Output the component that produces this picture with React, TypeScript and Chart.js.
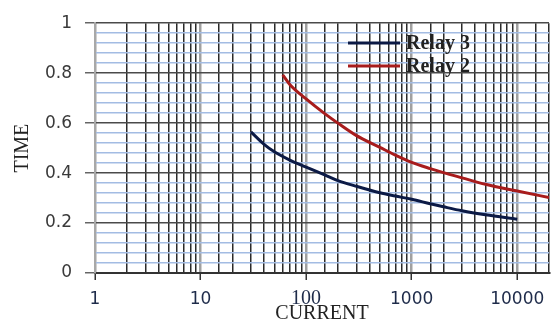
import React, { useEffect, useRef } from 'react';
import { Chart, registerables } from 'chart.js';

Chart.register(...registerables);

// ---- data ----
const seriesNames = ['Relay 3', 'Relay 2'];
const seriesColors = ['#0c1a45', '#a81c1c'];

const relay3Current = [30, 40, 50, 70, 100, 150, 200, 300, 500, 700, 1000, 1500, 2000, 3000, 5000, 10000];
const relay3Time = [0.565, 0.515, 0.485, 0.452, 0.424, 0.393, 0.37, 0.347, 0.321, 0.308, 0.295, 0.277, 0.265, 0.249, 0.233, 0.215];

const relay2Current = [60, 70, 100, 150, 200, 300, 500, 700, 1000, 1500, 2000, 3000, 5000, 10000, 20000];
const relay2Time = [0.793, 0.755, 0.697, 0.638, 0.6, 0.55, 0.503, 0.472, 0.443, 0.418, 0.402, 0.381, 0.355, 0.328, 0.302];

const xTickLabels = [1, 10, 100, 1000, 10000];
const yMajorTicks = [0, 0.2, 0.4, 0.6, 0.8, 1];

const xMin = 1;
const xMax = 20000;
const yMin = 0;
const yMax = 1;
const yMinorStep = 0.04;

const isDecade = (v: number) => {
  const l = Math.log10(v);
  return Math.abs(l - Math.round(l)) < 1e-9;
};
const isYMajor = (v: number) => yMajorTicks.some((m) => Math.abs(m - v) < 1e-6);

const insideLegend = {
  id: 'insideLegend',
  afterDatasetsDraw(chart: any) {
    const ctx = chart.ctx;
    const rows = [43, 66];
    chart.data.datasets.forEach((ds: any, i: number) => {
      const y = rows[i];
      ctx.save();
      ctx.strokeStyle = ds.borderColor;
      ctx.lineWidth = 3;
      ctx.beginPath();
      ctx.moveTo(348, y);
      ctx.lineTo(400, y);
      ctx.stroke();
      ctx.fillStyle = '#222222';
      ctx.font = 'bold 20px "Liberation Serif"';
      ctx.textBaseline = 'middle';
      ctx.textAlign = 'left';
      ctx.fillText(ds.label, 406, y + 1);
      ctx.restore();
    });
  },
};

export default function App() {
  const ref = useRef<HTMLCanvasElement | null>(null);

  useEffect(() => {
    document.body.style.margin = '0';
    const canvas = ref.current;
    if (!canvas) return;

    const chart = new Chart(canvas, {
      type: 'line',
      data: {
        datasets: [
          {
            label: seriesNames[0],
            data: relay3Current.map((x, i) => ({ x, y: relay3Time[i] })),
            borderColor: seriesColors[0],
            backgroundColor: seriesColors[0],
            borderWidth: 3,
            pointRadius: 0,
            cubicInterpolationMode: 'monotone',
            fill: false,
          },
          {
            label: seriesNames[1],
            data: relay2Current.map((x, i) => ({ x, y: relay2Time[i] })),
            borderColor: seriesColors[1],
            backgroundColor: seriesColors[1],
            borderWidth: 3,
            pointRadius: 0,
            cubicInterpolationMode: 'monotone',
            fill: false,
          },
        ],
      },
      options: {
        responsive: false,
        maintainAspectRatio: false,
        animation: false,
        devicePixelRatio: 1,
        layout: { padding: { top: 20, right: 11, left: 0, bottom: 0 } },
        plugins: {
          legend: { display: false },
          tooltip: { enabled: false },
        },
        scales: {
          x: {
            type: 'logarithmic',
            min: xMin,
            max: xMax,
            border: { display: true, color: '#333333', width: 2 },
            grid: {
              color: (c: any) => (c.tick && isDecade(c.tick.value) ? '#a0a0a0' : '#2a2a2a'),
              lineWidth: (c: any) => (c.tick && isDecade(c.tick.value) ? 2.5 : 1.5),
              tickColor: (c: any) => (c.tick && isDecade(c.tick.value) ? '#333333' : 'rgba(0,0,0,0)'),
              tickLength: 7,
              tickWidth: 1.5,
            },
            ticks: {
              autoSkip: false,
              maxRotation: 0,
              minRotation: 0,
              padding: 9,
              color: '#1e2b4a',
              font: (c: any) =>
                c.tick && c.tick.value === 100
                  ? { family: '"Liberation Serif"', size: 20, lineHeight: 1 }
                  : { family: '"DejaVu Sans"', size: 17 },
              callback: (v: any) => {
                const n = Number(v);
                return xTickLabels.some((t) => Math.abs(t - n) < 1e-9) ? String(n) : '';
              },
            },
            title: {
              display: true,
              text: 'CURRENT',
              color: '#222222',
              font: { family: '"Liberation Serif"', size: 20, lineHeight: 1 },
              padding: { top: 0, bottom: -4 },
            },
            afterFit: (s: any) => {
              s.height = 47;
            },
          },
          y: {
            type: 'linear',
            min: yMin,
            max: yMax,
            border: { display: true, color: '#a8a8a8', width: 2 },
            grid: {
              color: (c: any) => (c.tick && isYMajor(c.tick.value) ? '#4a4a4a' : '#a3bce3'),
              lineWidth: 1.5,
              tickColor: (c: any) => (c.tick && isYMajor(c.tick.value) ? '#666666' : 'rgba(0,0,0,0)'),
              tickLength: 10,
            },
            ticks: {
              stepSize: yMinorStep,
              autoSkip: false,
              padding: 13,
              color: '#3a3a3a',
              font: { family: '"DejaVu Sans"', size: 17 },
              callback: (v: any) => {
                const n = Number(v);
                return isYMajor(n) ? String(Math.round(n * 10) / 10) : '';
              },
            },
            title: {
              display: true,
              text: 'TIME',
              color: '#222222',
              font: { family: '"Liberation Serif"', size: 20, lineHeight: 1 },
              padding: { top: 13, bottom: 0 },
            },
            afterFit: (s: any) => {
              s.width = 95;
            },
          },
        },
      },
      plugins: [insideLegend],
    } as any);

    return () => chart.destroy();
  }, []);

  return (
    <div style={{ width: 560, height: 320 }}>
      <canvas ref={ref} width={560} height={320} style={{ display: 'block' }} />
    </div>
  );
}
